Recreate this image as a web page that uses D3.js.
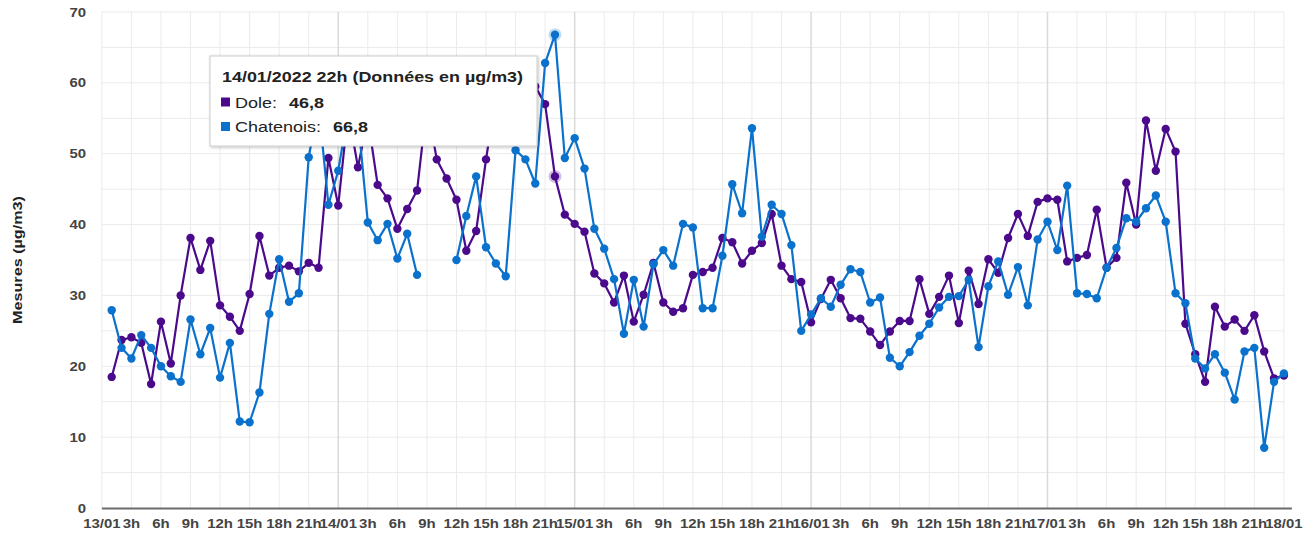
<!DOCTYPE html>
<html>
<head>
  <meta charset="UTF-8">
  <style>
    body { margin: 0; background: #fff; }
    svg { display: block; font-family: "Liberation Sans", Arial, sans-serif; }
  </style>
</head>
<body>
<svg id="chart"></svg>
<script src="https://d3js.org/d3.v7.min.js"></script>
<script>
// hourly points from 13/01 1h to 18/01 0h
var hours = d3.range(1, 121);

var xTickLabels = ["13/01","3h","6h","9h","12h","15h","18h","21h",
                   "14/01","3h","6h","9h","12h","15h","18h","21h",
                   "15/01","3h","6h","9h","12h","15h","18h","21h",
                   "16/01","3h","6h","9h","12h","15h","18h","21h",
                   "17/01","3h","6h","9h","12h","15h","18h","21h",
                   "18/01"];
var yTicks = [0, 10, 20, 30, 40, 50, 60, 70];

var dole = [
  18.5, 23.7, 24.1, 23.3, 17.5, 26.3, 20.4, 30.0, 38.1, 33.6,
  37.7, 28.6, 27.0, 25.0, 30.2, 38.4, 32.8, 33.9, 34.2, 33.4,
  34.6, 33.9, 49.4, 42.7, 56.0, 48.1, 55.0, 45.6, 43.7, 39.4,
  42.2, 44.8, 57.0, 49.2, 46.5, 43.5, 36.3, 39.1, 49.2, 58.0,
  56.0, 55.0, 57.0, 59.5, 57.0, 46.8, 41.4, 40.1, 39.0, 33.1,
  31.7, 29.0, 32.8, 26.3, 30.1, 34.6, 29.0, 27.7, 28.2, 32.9,
  33.3, 33.9, 38.1, 37.5, 34.5, 36.3, 37.4, 41.5, 34.2, 32.3,
  31.9, 26.2, 29.5, 32.2, 29.6, 26.8, 26.7, 24.9, 23.0, 24.9,
  26.4, 26.4, 32.3, 27.4, 29.8, 32.8, 26.1, 33.5, 28.8, 35.1,
  33.2, 38.1, 41.5, 38.4, 43.2, 43.7, 43.5, 34.8, 35.3, 35.7,
  42.1, 33.9, 35.3, 45.9, 40.0, 54.7, 47.6, 53.5, 50.3, 26.0,
  21.7, 17.8, 28.4, 25.6, 26.6, 25.0, 27.2, 22.1, 18.3, 18.7
];
var chatenois = [
  27.9, 22.6, 21.1, 24.4, 22.6, 20.0, 18.6, 17.8, 26.6, 21.7,
  25.4, 18.4, 23.3, 12.2, 12.1, 16.3, 27.4, 35.1, 29.1, 30.3,
  49.5, 57.0, 42.8, 47.6, 56.0, 55.0, 40.3, 37.8, 40.1, 35.2,
  38.7, 32.9, null, null, null, 35.0, 41.2, 46.8, 36.8, 34.5,
  32.7, 50.5, 49.2, 45.8, 62.8, 66.8, 49.4, 52.2, 47.9, 39.4,
  36.6, 32.3, 24.6, 32.2, 25.6, 34.4, 36.4, 34.2, 40.1, 39.6,
  28.2, 28.2, 35.6, 45.7, 41.6, 53.6, 38.3, 42.8, 41.5, 37.1,
  25.0, 27.3, 29.6, 28.4, 31.5, 33.7, 33.3, 29.0, 29.7, 21.2,
  20.0, 22.0, 24.3, 26.0, 28.3, 29.8, 29.9, 32.2, 22.7, 31.3,
  34.8, 30.1, 34.0, 28.6, 37.9, 40.4, 36.4, 45.5, 30.3, 30.2,
  29.6, 33.9, 36.7, 40.9, 40.4, 42.3, 44.1, 40.4, 30.3, 28.9,
  21.1, 19.7, 21.7, 19.1, 15.3, 22.1, 22.6, 8.5, 17.8, 19.0
];

var series = [
  {name: "Dole", values: dole, color: "#4b0a8c"},
  {name: "Chatenois", values: chatenois, color: "#0a72cc"}
];
var focusIndex = 45; // 14/01 22h

var width = 1312, height = 538;
var svg = d3.select("#chart").attr("width", width).attr("height", height);

var x = d3.scaleLinear().domain([0, 120]).range([101.85, 1283.9]);
var y = d3.scaleLinear().domain([0, 70]).range([508, 12]);

// gridlines
var grid = svg.append("g");
grid.selectAll(".hgrid")
  .data(d3.range(5, 75, 5))
  .enter().append("line")
  .attr("x1", x(0)).attr("x2", x(120))
  .attr("y1", function(d) { return y(d); }).attr("y2", function(d) { return y(d); })
  .attr("stroke", "#ebebeb").attr("stroke-width", 1);
grid.selectAll(".vgrid")
  .data(d3.range(0, 121, 3))
  .enter().append("line")
  .attr("x1", function(d) { return x(d); }).attr("x2", function(d) { return x(d); })
  .attr("y1", y(70)).attr("y2", y(0))
  .attr("stroke", function(d) { return d % 24 == 0 && d > 0 && d < 120 ? "#dadada" : "#ebebeb"; })
  .attr("stroke-width", function(d) { return d % 24 == 0 && d > 0 && d < 120 ? 1.5 : 1; });

// baseline
svg.append("line")
  .attr("x1", x(0)).attr("x2", x(120) + 8)
  .attr("y1", y(0) + 0.5).attr("y2", y(0) + 0.5)
  .attr("stroke", "#6b6b6b").attr("stroke-width", 2);

// stretched text helper
function label(g, tx, ty, str, opts) {
  var t = g.append("text")
    .attr("transform", "translate(" + tx + "," + ty + ") scale(" + (opts.sx || 1) + ",1)")
    .attr("text-anchor", opts.anchor || "start")
    .attr("font-size", opts.size || 13)
    .attr("font-weight", opts.weight || "normal")
    .attr("fill", opts.fill || "#222")
    .text(str);
  return t;
}

// y axis labels
var yAxis = svg.append("g");
yTicks.forEach(function(v) {
  label(yAxis, 86, y(v) + 4.5, v, {anchor: "end", size: 13, weight: "bold", fill: "#444", sx: 1.15});
});

// x axis labels
var xAxis = svg.append("g");
xTickLabels.forEach(function(s, i) {
  label(xAxis, x(i * 3), 528, s, {anchor: "middle", size: 13, weight: "bold", fill: "#444", sx: 1.15});
});

// y title
svg.append("text")
  .attr("transform", "translate(22,260) rotate(-90)")
  .attr("text-anchor", "middle")
  .attr("font-size", 12)
  .attr("font-weight", "bold")
  .attr("fill", "#222")
  .attr("textLength", 128).attr("lengthAdjust", "spacingAndGlyphs")
  .text("Mesures (µg/m3)");

// lines and points
var line = d3.line()
  .defined(function(d) { return d.v != null; })
  .x(function(d) { return x(d.h); })
  .y(function(d) { return y(d.v); });

series.forEach(function(s) {
  var pts = hours.map(function(h, i) { return {h: h, v: s.values[i]}; });
  var g = svg.append("g");
  g.append("path")
    .datum(pts)
    .attr("d", line)
    .attr("fill", "none")
    .attr("stroke", s.color)
    .attr("stroke-width", 2.2)
    .attr("stroke-linejoin", "round");
  g.selectAll("circle")
    .data(pts.filter(function(d) { return d.v != null; }))
    .enter().append("circle")
    .attr("cx", function(d) { return x(d.h); })
    .attr("cy", function(d) { return y(d.v); })
    .attr("r", 4.2)
    .attr("fill", s.color);
  // focused point halo
  g.append("circle")
    .attr("cx", x(hours[focusIndex])).attr("cy", y(s.values[focusIndex]))
    .attr("r", 6.5).attr("fill", s.color).attr("fill-opacity", 0.25);
});

// tooltip
var defs = svg.append("defs");
var f = defs.append("filter").attr("id", "shadow").attr("x", -0.1).attr("y", -0.2).attr("width", 1.2).attr("height", 1.4);
f.append("feDropShadow").attr("dx", 1).attr("dy", 1).attr("stdDeviation", 1.5).attr("flood-color", "#000").attr("flood-opacity", 0.25);

var tip = svg.append("g");
tip.append("rect")
  .attr("x", 210).attr("y", 56).attr("width", 327).attr("height", 90)
  .attr("fill", "#fff").attr("stroke", "#cccccc").attr("stroke-width", 1)
  .attr("filter", "url(#shadow)");
tip.append("text")
  .attr("x", 222).attr("y", 82)
  .attr("font-size", 15).attr("font-weight", "bold").attr("fill", "#222")
  .attr("textLength", 301).attr("lengthAdjust", "spacingAndGlyphs")
  .text("14/01/2022 22h (Données en µg/m3)");

var rows = [{s: series[0], y: 107.5}, {s: series[1], y: 132}];
rows.forEach(function(r) {
  tip.append("rect")
    .attr("x", 221).attr("y", r.y - 10).attr("width", 9).attr("height", 9)
    .attr("fill", r.s.color);
  var nameText = label(tip, 235, r.y, r.s.name + ":", {size: 15, fill: "#222", sx: 1.2});
  var nameW = nameText.node().getComputedTextLength() * 1.2;
  label(tip, 235 + nameW + 12, r.y, String(r.s.values[focusIndex]).replace(".", ","),
        {size: 15, weight: "bold", fill: "#222", sx: 1.2});
});
</script>
</body>
</html>
